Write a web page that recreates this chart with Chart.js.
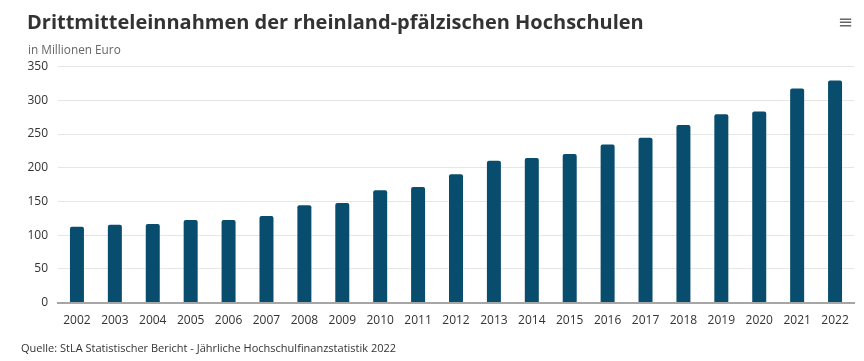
<!DOCTYPE html>
<html>
<head>
<meta charset="utf-8">
<script src="https://cdn.jsdelivr.net/npm/chart.js@4/dist/chart.umd.min.js"></script>
<style>
  html, body { margin: 0; padding: 0; background: #ffffff; }
  #wrap { position: relative; width: 864px; height: 361px; overflow: hidden; font-family: "Open Sans", sans-serif; }
  #c { position: absolute; left: 0; top: 0; }
  .t { position: absolute; white-space: nowrap; }
  #title { left: 27px; top: 9px; font-size: 20px; line-height: 26px; font-weight: 700; color: #333333; }
  #subtitle { left: 28px; top: 40.5px; font-size: 11.8px; line-height: 16px; color: #666666; }
  #source { left: 21px; top: 340.5px; font-size: 11px; line-height: 14px; color: #333333; }
  #menu { left: 838px; top: 10px; font-size: 18px; line-height: 24px; color: #666666; font-family: "DejaVu Sans", sans-serif; }
</style>
</head>
<body>
<div id="wrap">
  <canvas id="c" width="864" height="361"></canvas>
  <div class="t" id="title">Drittmitteleinnahmen der rheinland-pfälzischen Hochschulen</div>
  <div class="t" id="subtitle">in Millionen Euro</div>
  <div class="t" id="source">Quelle: StLA Statistischer Bericht - Jährliche Hochschulfinanzstatistik 2022</div>
  <div class="t" id="menu">≡</div>
</div>
<script>
const years = ["2002","2003","2004","2005","2006","2007","2008","2009","2010","2011","2012","2013","2014","2015","2016","2017","2018","2019","2020","2021","2022"];
const einnahmen = [114, 117, 118, 124, 124, 130, 146, 149, 168, 173, 192, 212, 216, 222, 236, 246, 265, 281, 285, 319, 331];
const yTicks = [0, 50, 100, 150, 200, 250, 300, 350];

new Chart(document.getElementById('c'), {
  type: 'bar',
  data: {
    labels: years,
    datasets: [{
      data: einnahmen,
      backgroundColor: '#084d6d',
      borderColor: 'rgba(255,255,255,0.35)',
      borderWidth: 1,
      borderRadius: 3,
      borderSkipped: 'bottom',
      categoryPercentage: 0.422,
      barPercentage: 1
    }]
  },
  options: {
    responsive: false,
    animation: false,
    devicePixelRatio: 1,
    layout: { padding: { left: 0, right: 10, top: 66.7, bottom: 28.5 } },
    plugins: { legend: { display: false }, tooltip: { enabled: false }, title: { display: false } },
    scales: {
      x: {
        grid: { display: false, drawTicks: false },
        border: { display: true, color: '#a6a6a6', width: 2 },
        ticks: { color: '#333333', font: { family: 'Open Sans', size: 12 }, padding: 11, maxRotation: 0, autoSkip: false },
        afterFit: (s) => { s.height = 30; }
      },
      y: {
        min: 0, max: 350,
        afterBuildTicks: (s) => { s.ticks = yTicks.map(v => ({ value: v })); },
        grid: { color: '#e6e6e6', lineWidth: 1, drawTicks: false },
        border: { display: false },
        ticks: { color: '#333333', font: { family: 'Open Sans', size: 12 }, padding: 10 },
        afterFit: (s) => { s.width = 58; }
      }
    }
  }
});
</script>
</body>
</html>
